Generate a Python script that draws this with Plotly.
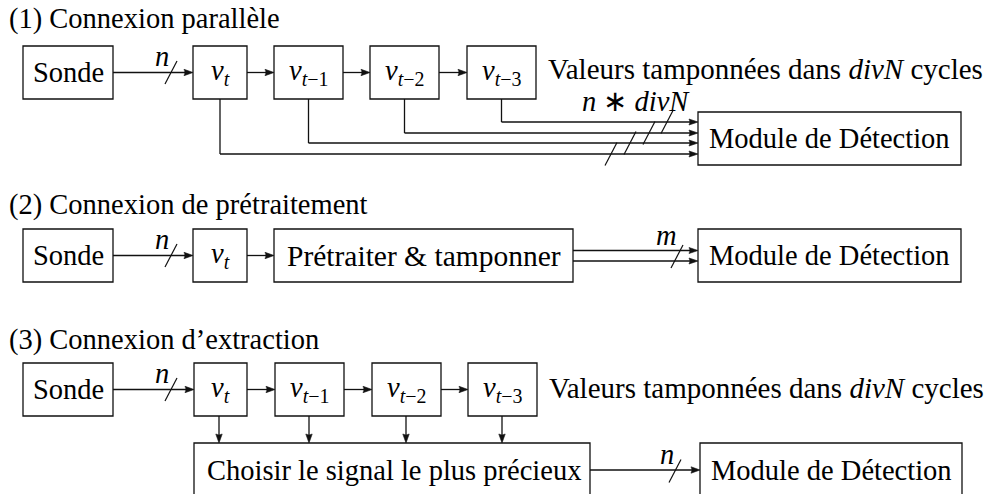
import math
import plotly.graph_objects as go

# ---------------- content (text) ----------------
section_titles = ["(1) Connexion parallèle",
                  "(2) Connexion de prétraitement",
                  "(3) Connexion d’extraction"]
source_label = "Sonde"
register_labels = ["<i>v</i><sub><i>t</i></sub>",
                   "<i>v</i><sub><i>t</i>−1</sub>",
                   "<i>v</i><sub><i>t</i>−2</sub>",
                   "<i>v</i><sub><i>t</i>−3</sub>"]
detector_label = "Module de Détection"
buffer_note = "Valeurs tamponnées dans <i>divN</i> cycles"
preprocess_label = "Prétraiter &amp; tamponner"
extract_label = "Choisir le signal le plus précieux"
bus_width_in = "<i>n</i>"
bus_width_par = "<i>n</i> ∗ <i>divN</i>"
bus_width_pre = "<i>m</i>"

# ---------------- layout geometry (pixel space) ----------------
W, H = 992, 494
title_y = [19, 205, 340]
row_top = [46, 229, 363]
row_h = 53
sonde_x = (23, 113)
reg_x = [(193, 247), (274, 343), (370, 439), (467, 536)]
reg_x3 = [(194, 247), (275, 344), (372, 441), (468, 537)]
pre_x = (274, 573)
det_x = (698, 961)
det1_y = (112, 165)
tap_y = [154, 143, 133, 122]          # row-1 fan-out line heights
slash_x1 = [611, 630, 649, 667]       # row-1 slash centres along the fan-out
extract_x = (194, 590)
extract_top = 443
det3_x = (700, 962)
row3_link_y = 470

FONT = "'Liberation Serif', 'Times New Roman', serif"
FS = 28.5
LW = 1.3
INK = "#111111"

shapes = []
annotations = []


def rect(x0, x1, y0, y1):
    shapes.append(dict(type="rect", x0=x0, x1=x1, y0=y0, y1=y1,
                       line=dict(color=INK, width=LW), fillcolor="rgba(0,0,0,0)"))


def open_rect(x0, x1, y0):
    shapes.append(dict(type="path", path=f"M{x0},{H} L{x0},{y0} L{x1},{y0} L{x1},{H}",
                       line=dict(color=INK, width=LW)))


def line(x0, y0, x1, y1, w=LW):
    shapes.append(dict(type="line", x0=x0, y0=y0, x1=x1, y1=y1,
                       line=dict(color=INK, width=w)))


def arrow(x0, y0, x1, y1, head_len=9.0, head_w=3.2):
    dx, dy = x1 - x0, y1 - y0
    L = math.hypot(dx, dy)
    ux, uy = dx / L, dy / L
    bx, by = x1 - ux * head_len, y1 - uy * head_len
    line(x0, y0, bx + ux * 1.5, by + uy * 1.5)
    px, py = -uy, ux
    shapes.append(dict(type="path",
                       path=(f"M{x1},{y1} L{bx + px * head_w},{by + py * head_w} "
                             f"Q{bx + ux * 2},{by + uy * 2} {bx - px * head_w},{by - py * head_w} Z"),
                       line=dict(color=INK, width=0.6), fillcolor=INK))


def slash(cx, cy, hx=6, hy=11.5):
    line(cx - hx, cy + hy, cx + hx, cy - hy, w=1.2)


def text(x, y, s, anchor="center", size=FS):
    annotations.append(dict(x=x, y=y, xref="x", yref="y", text=s, showarrow=False,
                            xanchor=anchor, yanchor="middle",
                            font=dict(family=FONT, size=size, color="black")))


def mid(a):
    return (a[0] + a[1]) / 2


# ---- section titles
for t, ty in zip(section_titles, title_y):
    text(7, ty, t, anchor="left")

# ---- Sonde + input bus (all rows)
for r in range(3):
    y0 = row_top[r]
    yc = y0 + row_h / 2
    rect(sonde_x[0], sonde_x[1], y0, y0 + row_h)
    text(mid(sonde_x), yc, source_label)
    first = reg_x if r != 2 else reg_x3
    arrow(sonde_x[1], yc, first[0][0], yc)
    slash(171, yc)
    text(162, yc - 16, bus_width_in)

# ---- row 1: parallel connection
y0 = row_top[0]
yc = y0 + row_h / 2
for i, (lab, xr) in enumerate(zip(register_labels, reg_x)):
    rect(xr[0], xr[1], y0, y0 + row_h)
    text(mid(xr), yc, lab)
    if i < 3:
        arrow(xr[1], yc, reg_x[i + 1][0], yc)
    cx = mid(xr)
    line(cx, y0 + row_h, cx, tap_y[i])
    arrow(cx, tap_y[i], det_x[0], tap_y[i], head_len=9, head_w=3.0)
    slash(slash_x1[i], tap_y[i])
text(546, yc - 4, buffer_note, anchor="left", size=29)
rect(det_x[0], det_x[1], det1_y[0], det1_y[1])
text(mid(det_x), mid(det1_y), detector_label)
text(636, 101, bus_width_par)

# ---- row 2: preprocessing connection
y0 = row_top[1]
yc = y0 + row_h / 2
rect(reg_x[0][0], reg_x[0][1], y0, y0 + row_h)
text(mid(reg_x[0]), yc, register_labels[0])
arrow(reg_x[0][1], yc, pre_x[0], yc)
rect(pre_x[0], pre_x[1], y0, y0 + row_h)
text(mid(pre_x), yc, preprocess_label, size=29.5)
for off in (-5, 5.5):
    arrow(pre_x[1], yc + off, det_x[0], yc + off, head_len=9, head_w=3.0)
slash(677, yc + 1)
text(666, yc - 20, bus_width_pre)
rect(det_x[0], det_x[1], y0, y0 + row_h)
text(mid(det_x), yc, detector_label)

# ---- row 3: extraction connection
y0 = row_top[2]
yc = y0 + row_h / 2
for i, (lab, xr) in enumerate(zip(register_labels, reg_x3)):
    rect(xr[0], xr[1], y0, y0 + row_h)
    text(mid(xr), yc, lab)
    if i < 3:
        arrow(xr[1], yc, reg_x3[i + 1][0], yc)
    cx = round(mid(xr)) - 1 if i == 0 else mid(xr) - 0.5
    arrow(cx, y0 + row_h, cx, extract_top)
text(547, yc - 2, buffer_note, anchor="left", size=29)
open_rect(extract_x[0], extract_x[1], extract_top)
text(205, row3_link_y, extract_label, anchor="left")
arrow(extract_x[1], row3_link_y, det3_x[0], row3_link_y)
slash(675, row3_link_y + 1)
text(667, row3_link_y - 16, bus_width_in)
open_rect(det3_x[0], det3_x[1], extract_top)
text(mid(det3_x), row3_link_y, detector_label)

fig = go.Figure()
fig.update_layout(
    width=W, height=H, autosize=False,
    margin=dict(l=0, r=0, t=0, b=0, pad=0),
    paper_bgcolor="white", plot_bgcolor="white",
    xaxis=dict(range=[0, W], visible=False, fixedrange=True),
    yaxis=dict(range=[H, 0], visible=False, fixedrange=True),
    shapes=shapes, annotations=annotations, showlegend=False,
)
fig.write_html("out.html", post_script="document.body.style.margin='0';",
               config={"displayModeBar": False})
